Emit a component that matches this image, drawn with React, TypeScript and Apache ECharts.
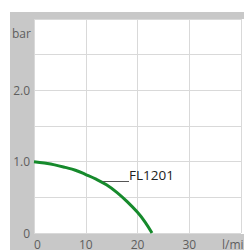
import React, { useEffect, useRef } from "react";
import * as echarts from "echarts";

const flowValues = [0, 2, 4, 6, 8, 10, 12, 14, 16, 18, 20, 21.5, 22.8];
const pressureValues = [1.0, 0.98, 0.955, 0.92, 0.88, 0.82, 0.755, 0.675, 0.57, 0.44, 0.29, 0.15, 0];
const seriesName = "FL1201";
const yTickLabels: Record<string, string> = { "0": "0", "1": "1.0", "2": "2.0" };
const yUnit = "bar";
const xUnit = "l/min";

export default function App() {
  const ref = useRef<HTMLDivElement>(null);
  useEffect(() => {
    if (!ref.current) return;
    const chart = echarts.init(ref.current, null, { renderer: "svg" });
    const font = "'Open Sans', sans-serif";
    chart.setOption({
      animation: false,
      backgroundColor: "#ffffff",
      grid: {
        left: 34,
        top: 19,
        width: 218,
        height: 215,
        show: false,
      },
      xAxis: {
        type: "value",
        min: 0,
        max: 40,
        interval: 10,
        axisLine: { show: false },
        axisTick: { show: false },
        splitLine: { show: true, lineStyle: { color: "#d9d9d9", width: 1 } },
        axisLabel: {
          margin: 5,
          fontSize: 12,
          fontFamily: font,
          color: "#5e5e5e",
          alignMinLabel: "left",
          formatter: (v: number) => (v >= 40 ? "" : String(v)),
        },
      },
      yAxis: {
        type: "value",
        min: 0,
        max: 3,
        interval: 0.5,
        axisLine: { show: false },
        axisTick: { show: false },
        splitLine: { show: true, lineStyle: { color: "#d9d9d9", width: 1 } },
        axisLabel: {
          margin: 4,
          fontSize: 12,
          fontFamily: font,
          color: "#5e5e5e",
          formatter: (v: number) => yTickLabels[String(v)] ?? "",
        },
      },
      graphic: [
        {
          type: "rect",
          z: -10,
          silent: true,
          shape: { x: 10, y: 12, width: 260, height: 260 },
          style: { fill: "#c8c8c8" },
        },
        {
          type: "rect",
          z: -9,
          silent: true,
          shape: { x: 34, y: 19, width: 220, height: 215 },
          style: { fill: "#ffffff" },
        },
        {
          type: "text",
          z: 10,
          x: 12,
          y: 27,
          style: { text: yUnit, fontSize: 12, fontFamily: font, fill: "#5e5e5e" },
        },
        {
          type: "text",
          z: 10,
          x: 222,
          y: 238,
          style: { text: xUnit, fontSize: 12, fontFamily: font, fill: "#5e5e5e" },
        },
        {
          type: "line",
          z: 10,
          shape: { x1: 103, y1: 181.5, x2: 129, y2: 181.5 },
          style: { stroke: "#555555", lineWidth: 1 },
        },
        {
          type: "text",
          z: 10,
          x: 129,
          y: 168,
          style: { text: seriesName, fontSize: 13.5, fontFamily: font, fill: "#222222" },
        },
      ],
      series: [
        {
          name: seriesName,
          type: "line",
          smooth: 0.4,
          showSymbol: false,
          z: 5,
          lineStyle: { color: "#168a2c", width: 3 },
          data: flowValues.map((x, i) => [x, pressureValues[i]]),
        },
      ],
    });
    return () => chart.dispose();
  }, []);
  return (
    <div
      ref={ref}
      style={{ position: "fixed", left: 0, top: 0, width: 244, height: 250 }}
    />
  );
}
